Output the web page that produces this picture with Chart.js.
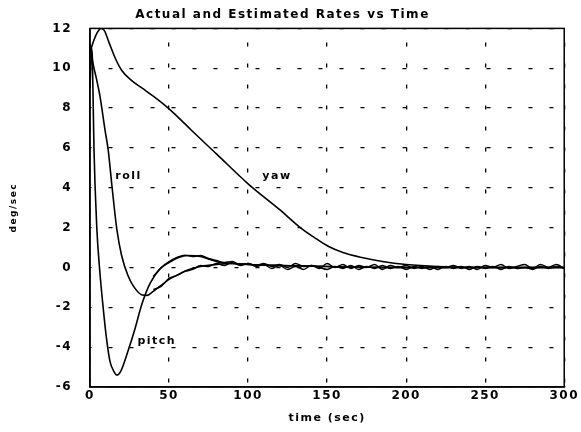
<!DOCTYPE html>
<html>
<head>
<meta charset="utf-8">
<script src="https://cdn.jsdelivr.net/npm/chart.js@4/dist/chart.umd.min.js"></script>
<style>
  html, body { margin: 0; padding: 0; background: #fff; }
  #wrap { width: 581px; height: 432px; }
</style>
</head>
<body>
<div id="wrap"><canvas id="rates"></canvas></div>
<script>
// Tick labels
const xTicks = [0, 50, 100, 150, 200, 250, 300];
const yTicks = [-6, -4, -2, 0, 2, 4, 6, 8, 10, 12];

// Actual rates
const pitchTime = [0, 1, 1.5, 2.5, 4.3, 6, 8.3, 10.5, 12.6, 15, 17, 19.5, 24, 28, 33, 38, 44, 50, 56, 62, 70, 76, 82, 90, 100, 120, 150, 200, 300];
const pitchRate = [9, 11, 10.5, 6, 2, 0, -2, -3.6, -4.7, -5.2, -5.4, -5.2, -4.2, -3.2, -1.8, -0.8, -0.1, 0.25, 0.5, 0.6, 0.55, 0.4, 0.25, 0.2, 0.15, 0.1, 0.05, 0, 0];

const rollTime = [0, 2, 4, 6.3, 9.5, 11.5, 14, 17, 20, 24, 28, 33, 36, 40, 45, 50, 56, 61, 70, 80, 90, 100, 120, 150, 200, 300];
const rollRate = [11.2, 10.2, 9.5, 8.6, 6.9, 5.9, 4, 1.9, 0.6, -0.4, -1.0, -1.38, -1.4, -1.2, -0.9, -0.6, -0.35, -0.15, 0.05, 0.15, 0.2, 0.15, 0.1, 0.05, 0, 0];

const yawTime = [0, 2, 4, 7, 9, 12, 16, 20, 26, 33, 40, 48, 55, 64, 80, 100, 120, 133, 142, 151, 160, 172, 185, 200, 220, 250, 300];
const yawRate = [10.8, 11.3, 11.7, 12, 11.9, 11.3, 10.5, 9.9, 9.4, 9.0, 8.6, 8.1, 7.6, 6.9, 5.7, 4.2, 2.9, 2.0, 1.5, 1.05, 0.75, 0.5, 0.3, 0.15, 0.05, 0, 0];

// Estimated rates (noisy)
const estTime = [40, 45, 50, 55, 60, 65, 70, 75, 80, 85, 90, 95, 100, 105, 110, 115, 120, 125, 130, 135, 140, 145, 150, 155, 160, 165, 170, 175, 180, 185, 190, 195, 200, 205, 210, 215, 220, 225, 230, 235, 240, 245, 250, 255, 260, 265, 270, 275, 280, 285, 290, 295, 300];
const estPitch = [-0.45, 0.0, 0.3, 0.5, 0.62, 0.55, 0.6, 0.45, 0.35, 0.25, 0.3, 0.15, 0.2, 0.1, 0.2, 0.05, 0.15, 0.0, 0.2, 0.05, 0.1, -0.05, 0.2, 0.0, 0.15, -0.05, 0.1, 0.0, 0.15, -0.1, 0.1, 0.0, 0.1, -0.05, 0.05, -0.1, 0.05, 0.0, 0.1, -0.05, 0.05, -0.1, 0.1, 0.0, 0.15, -0.05, 0.05, 0.15, -0.05, 0.15, 0.0, 0.15, -0.05];
const estRoll = [-1.1, -0.95, -0.55, -0.4, -0.2, -0.1, 0.1, 0.05, 0.2, 0.1, 0.25, 0.1, 0.2, 0.05, 0.15, -0.05, 0.1, -0.1, 0.05, -0.1, 0.1, 0.0, -0.1, 0.05, -0.05, 0.1, -0.1, 0.05, -0.05, 0.1, -0.05, 0.05, -0.1, 0.05, -0.05, 0.05, -0.1, 0.05, -0.05, 0.05, -0.1, 0.05, -0.05, 0.05, -0.1, 0.05, -0.05, 0.0, -0.1, 0.05, -0.05, 0.05, -0.05];

// Curve labels, placed in data coordinates
const curveLabels = [
  { text: 'roll', t: 16, v: 4.6 },
  { text: 'yaw', t: 109, v: 4.6 },
  { text: 'pitch', t: 30, v: -3.7 }
];

const FONT = "'DejaVu Sans', sans-serif";

function points(ts, vs) {
  return ts.map((t, i) => ({ x: t, y: vs[i] }));
}

function series(label, ts, vs, width) {
  return {
    label,
    data: points(ts, vs),
    borderColor: '#000',
    borderWidth: width,
    pointRadius: 0,
    fill: false,
    cubicInterpolationMode: 'monotone'
  };
}

const spacing = {
  id: 'spacing',
  beforeLayout(chart) { chart.ctx.letterSpacing = '1.5px'; },
  beforeDraw(chart) { chart.ctx.letterSpacing = '1.5px'; }
};

const frameAndLabels = {
  id: 'frameAndLabels',
  afterDatasetsDraw(chart) {
    const { ctx, chartArea: a, scales } = chart;
    ctx.save();
    ctx.strokeStyle = '#000';
    ctx.lineWidth = 1.5;
    ctx.strokeRect(a.left, a.top, a.right - a.left, a.bottom - a.top);
    ctx.fillStyle = '#000';
    ctx.font = 'bold 11px ' + FONT;
    ctx.textAlign = 'left';
    ctx.textBaseline = 'middle';
    curveLabels.forEach(l => {
      ctx.fillText(l.text, scales.x.getPixelForValue(l.t), scales.y.getPixelForValue(l.v));
    });
    ctx.restore();
  }
};

new Chart(document.getElementById('rates'), {
  type: 'line',
  data: {
    datasets: [
      series('pitch', pitchTime, pitchRate, 1.6),
      series('roll', rollTime, rollRate, 1.6),
      series('yaw', yawTime, yawRate, 1.6),
      series('pitch est', estTime, estPitch, 1.4),
      series('roll est', estTime, estRoll, 1.4)
    ]
  },
  options: {
    responsive: true,
    maintainAspectRatio: false,
    animation: false,
    layout: { padding: { left: 0, right: 16, top: 0, bottom: 0 } },
    plugins: {
      legend: { display: false },
      tooltip: { enabled: false },
      title: {
        display: true,
        text: 'Actual and Estimated Rates vs Time',
        color: '#000',
        font: { family: FONT, size: 12, weight: 'bold' },
        padding: { top: 8, bottom: 6 }
      }
    },
    scales: {
      x: {
        type: 'linear',
        min: 0,
        max: 300,
        afterBuildTicks: s => { s.ticks = xTicks.map(v => ({ value: v })); },
        afterFit: s => { s.height = 45; },
        grid: { color: '#000', lineWidth: 1.3, drawTicks: false },
        border: { display: true, color: '#000', width: 1.5, dash: [4, 17], dashOffset: 7 },
        ticks: { color: '#000', padding: 2, font: { family: FONT, size: 12, weight: 'bold' }, maxRotation: 0 },
        title: {
          display: true,
          text: 'time (sec)',
          color: '#000',
          font: { family: FONT, size: 11, weight: 'bold' },
          padding: { top: 0, bottom: 7 }
        }
      },
      y: {
        min: -6,
        max: 12,
        afterBuildTicks: s => { s.ticks = yTicks.map(v => ({ value: v })); },
        afterFit: s => { s.width = 90; },
        grid: { color: '#000', lineWidth: 1.3, drawTicks: false },
        border: { display: true, color: '#000', width: 1.5, dash: [4, 17], dashOffset: 3 },
        ticks: { color: '#000', padding: 18, font: { family: FONT, size: 12, weight: 'bold' } },
        title: {
          display: true,
          text: 'deg/sec',
          color: '#000',
          font: { family: FONT, size: 9, weight: 'bold' },
          padding: { top: 8, bottom: 0 }
        }
      }
    }
  },
  plugins: [spacing, frameAndLabels]
});
</script>
</body>
</html>
